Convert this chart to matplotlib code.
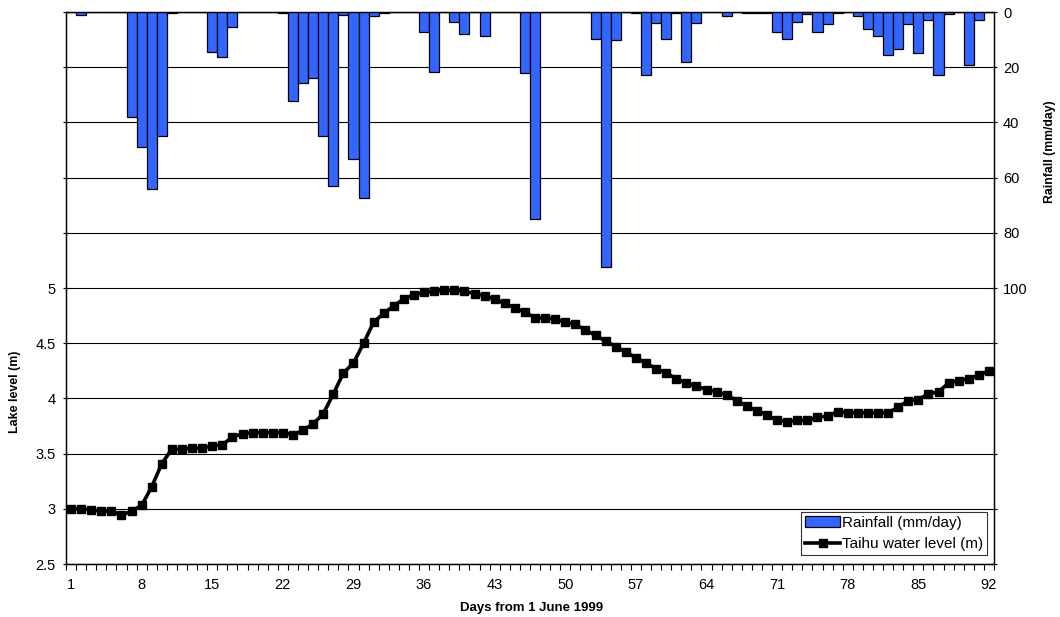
import numpy as np
import matplotlib
matplotlib.use("Agg")
import matplotlib.pyplot as plt
from matplotlib.ticker import FixedLocator, FixedFormatter

plt.rcParams['font.family'] = ['Liberation Sans', 'DejaVu Sans']

# Data
days = np.arange(1, 93)
rainfall = [0, 1.1, 0, 0, 0, 0, 38, 49, 64, 45,
            0.5, 0, 0, 0, 14.4, 16.2, 5.5, 0, 0, 0,
            0, 0.3, 32.2, 25.8, 24, 44.8, 63, 1.1, 53.4, 67.5,
            1.3, 0.2, 0, 0, 0, 7.4, 21.9, 0, 3.7, 7.8,
            0, 8.6, 0, 0, 0, 22.2, 75.1, 0, 0, 0,
            0, 0, 9.7, 92.5, 10.3, 0, 0.3, 22.9, 4.0, 9.8,
            0.2, 18.1, 4.0, 0, 0, 1.3, 0, 0.2, 0.2, 0.3,
            7.4, 9.7, 3.6, 0.9, 7.4, 4.5, 0.3, 0, 1.6, 6.0,
            8.7, 15.6, 13.5, 4.2, 15.0, 3.0, 22.9, 0.9, 0, 19.3,
            2.9, 0]
lake_level = [3.00, 3.00, 2.99, 2.98, 2.98, 2.94, 2.98, 3.03, 3.20, 3.41,
              3.54, 3.54, 3.55, 3.55, 3.57, 3.58, 3.65, 3.68, 3.69, 3.69,
              3.69, 3.69, 3.67, 3.71, 3.77, 3.86, 4.04, 4.23, 4.32, 4.50,
              4.69, 4.77, 4.84, 4.90, 4.94, 4.96, 4.97, 4.98, 4.98, 4.97,
              4.95, 4.93, 4.90, 4.86, 4.82, 4.78, 4.73, 4.73, 4.72, 4.69,
              4.67, 4.62, 4.57, 4.52, 4.47, 4.42, 4.37, 4.32, 4.27, 4.23,
              4.18, 4.14, 4.11, 4.08, 4.06, 4.03, 3.98, 3.93, 3.89, 3.85,
              3.80, 3.79, 3.80, 3.80, 3.83, 3.84, 3.88, 3.87, 3.87, 3.87,
              3.87, 3.87, 3.92, 3.98, 3.99, 4.04, 4.06, 4.14, 4.16, 4.18,
              4.21, 4.25]
xtick_days = list(range(1, 93, 7))
level_ticks = ['2.5', '3', '3.5', '4', '4.5', '5']
rain_ticks = ['0', '20', '40', '60', '80', '100']

fig = plt.figure(figsize=(10.6, 6.17), dpi=100)
ax = fig.add_axes([66 / 1060, 1 - 564 / 617, 928 / 1060, 552 / 617])
ax2 = ax.twinx()

# left axis: lake level, only lower half labelled
ax.set_xlim(0.5, 92.5)
ax.set_ylim(2.5, 7.5)
lv = np.arange(2.5, 7.51, 0.5)
ax.yaxis.set_major_locator(FixedLocator(lv))
ax.yaxis.set_major_formatter(FixedFormatter(level_ticks + [''] * (len(lv) - 6)))
for y in lv:
    ax.axhline(y, color='black', lw=0.8, zorder=0)

# right axis: rainfall, inverted, only upper half labelled
ax2.set_ylim(200, 0)
rv = np.arange(0, 201, 20)
ax2.yaxis.set_major_locator(FixedLocator(rv))
ax2.yaxis.set_major_formatter(FixedFormatter(rain_ticks + [''] * (len(rv) - 6)))

bars = ax2.bar(days, rainfall, width=1.0, color='#3366ff', edgecolor='black',
               lw=0.9, label='Rainfall (mm/day)')
line, = ax.plot(days, lake_level, color='black', lw=2.6, marker='s',
                markersize=5.5, label='Taihu water level (m)')

ax.xaxis.set_major_locator(FixedLocator(xtick_days))
ax.xaxis.set_major_formatter(FixedFormatter([str(d) for d in xtick_days]))
ax.xaxis.set_minor_locator(FixedLocator(np.arange(0.5, 93, 1)))
ax.tick_params(axis='x', which='major', length=0, labelsize=10.5, pad=10)
ax.tick_params(axis='x', which='minor', length=4.5, direction='out', width=0.8)
ax.tick_params(axis='y', direction='inout', length=5, width=0.8, labelsize=10.5, pad=5)
ax2.tick_params(axis='y', direction='inout', length=5, width=0.8, labelsize=10.5, pad=4)

for a in (ax, ax2):
    for s in a.spines.values():
        s.set_linewidth(0.9)

fig.text(532 / 1060, 1 - 608 / 617, 'Days from 1 June 1999', fontsize=9.5,
         fontweight='bold', ha='center', va='center')
fig.text(15 / 1060, 1 - 392 / 617, 'Lake level (m)', rotation=90, fontsize=8.9,
         fontweight='bold', ha='center', va='center')
fig.text(1050 / 1060, 1 - 152 / 617, 'Rainfall (mm/day)', rotation=90, fontsize=8.8,
         fontweight='bold', ha='center', va='center')

leg = ax2.legend(handles=[bars, line], loc='lower right', fontsize=11,
                 frameon=True, fancybox=False, edgecolor='black',
                 borderpad=0.25, handlelength=2.3, handletextpad=0.12,
                 labelspacing=0.5, borderaxespad=0,
                 bbox_to_anchor=(0.9925, 0.0163), bbox_transform=ax2.transAxes)
leg.get_frame().set_linewidth(0.8)

fig.savefig('out.png', dpi=100)
